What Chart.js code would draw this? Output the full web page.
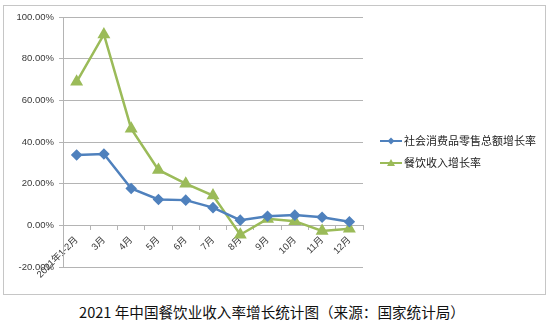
<!DOCTYPE html>
<html>
<head>
<meta charset="utf-8">
<script src="https://cdn.jsdelivr.net/npm/chart.js@4"></script>
<style>
  html, body { margin: 0; padding: 0; background: #fff; width: 554px; height: 325px; overflow: hidden; }
  #box { position: absolute; left: 3px; top: 5px; width: 541px; height: 288px; border: 1px solid #c6c6c6; }
  #c { display: block; }
  #title { position: absolute; left: 0; width: 544px; top: 303px; text-align: center;
           font: 14.6px "Noto Sans CJK SC", "Liberation Sans", sans-serif; color: #111; line-height: 18px; }
</style>
</head>
<body>
<div id="box"><canvas id="c" width="541" height="288"></canvas></div>
<div id="title">2021 年中国餐饮业收入率增长统计图（来源：国家统计局）</div>
<script>
const categories = ["2021年1-2月", "3月", "4月", "5月", "6月", "7月", "8月", "9月", "10月", "11月", "12月"];
const retailGrowth = [33.8, 34.2, 17.7, 12.4, 12.1, 8.5, 2.5, 4.4, 4.9, 3.9, 1.7];
const cateringGrowth = [68.9, 91.6, 46.4, 26.6, 20.0, 14.3, -4.5, 3.1, 2.0, -2.7, -1.6];
const seriesNames = ["社会消费品零售总额增长率", "餐饮收入增长率"];
const yTicks = [-20, 0, 20, 40, 60, 80, 100];

const BLUE = "#4F81BD";
const GREEN = "#9BBB59";
const GRID = "#b4b4b4";
const TXT = "#383838";
const FONT = "'Liberation Sans', 'Noto Sans CJK SC', sans-serif";

const legendPlugin = {
  id: "sideLegend",
  afterDraw(chart) {
    const ctx = chart.ctx;
    const ds = chart.data.datasets;
    const x0 = chart.chartArea.right + 17;
    const y0 = 135;
    ds.forEach((d, i) => {
      const y = y0 + i * 22;
      ctx.save();
      ctx.strokeStyle = d.borderColor;
      ctx.lineWidth = 2;
      ctx.beginPath();
      ctx.moveTo(x0, y);
      ctx.lineTo(x0 + 22, y);
      ctx.stroke();
      ctx.fillStyle = d.pointBackgroundColor;
      ctx.beginPath();
      const mx = x0 + 11;
      if (d.pointStyle === "rectRot") {
        ctx.moveTo(mx, y - 3.5); ctx.lineTo(mx + 3.5, y); ctx.lineTo(mx, y + 3.5); ctx.lineTo(mx - 3.5, y);
      } else {
        ctx.moveTo(mx, y - 4); ctx.lineTo(mx + 4, y + 3); ctx.lineTo(mx - 4, y + 3);
      }
      ctx.closePath();
      ctx.fill();
      ctx.fillStyle = "#222";
      ctx.font = "11px 'Noto Sans CJK SC', sans-serif";
      ctx.textBaseline = "middle";
      ctx.fillText(d.label, x0 + 24, y);
      ctx.restore();
    });
  }
};

new Chart(document.getElementById("c"), {
  type: "line",
  data: {
    labels: categories,
    datasets: [
      {
        label: seriesNames[0],
        data: retailGrowth,
        borderColor: BLUE,
        backgroundColor: BLUE,
        pointBackgroundColor: BLUE,
        pointBorderColor: BLUE,
        borderWidth: 2.5,
        pointStyle: "rectRot",
        pointRadius: 4,
        tension: 0
      },
      {
        label: seriesNames[1],
        data: cateringGrowth,
        borderColor: GREEN,
        backgroundColor: GREEN,
        pointBackgroundColor: GREEN,
        pointBorderColor: GREEN,
        borderWidth: 2.5,
        pointStyle: "triangle",
        pointRadius: 5,
        tension: 0
      }
    ]
  },
  options: {
    responsive: false,
    animation: false,
    events: [],
    layout: { padding: { left: 0, top: 11, right: 182, bottom: 27 } },
    plugins: { legend: { display: false }, title: { display: false }, tooltip: { enabled: false } },
    scales: {
      x: {
        type: "category",
        offset: true,
        position: { y: 0 },
        grid: { drawOnChartArea: false, drawTicks: true, tickLength: 4, offset: true, color: GRID },
        border: { display: true, color: GRID, width: 1 },
        ticks: {
          autoSkip: false, maxRotation: 45, minRotation: 45, padding: 5,
          color: TXT, font: { family: FONT, size: 9.5 }
        }
      },
      y: {
        min: -20, max: 100,
        afterFit(scale) { scale.width = 59; },
        afterBuildTicks(scale) { scale.ticks = yTicks.map(v => ({ value: v })); },
        grid: { color: GRID, tickLength: 4, lineWidth: 1 },
        border: { display: true, color: GRID, width: 1 },
        ticks: {
          padding: 5,
          color: TXT,
          font: { family: FONT, size: 9.5 },
          callback: v => v.toFixed(2) + "%"
        }
      }
    }
  },
  plugins: [legendPlugin]
});
</script>
</body>
</html>
